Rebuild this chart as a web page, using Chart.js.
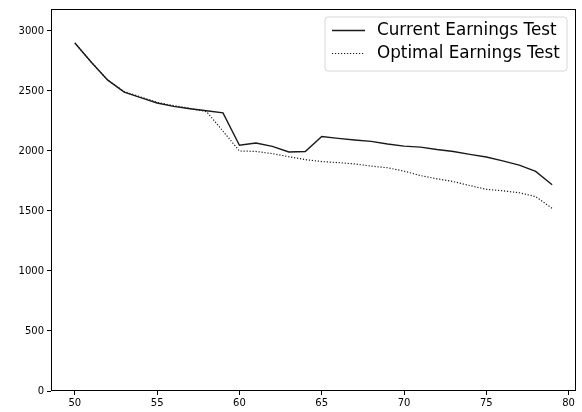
<!DOCTYPE html>
<html>
<head>
<meta charset="utf-8">
<script src="https://cdn.jsdelivr.net/npm/chart.js@4.4.1/dist/chart.umd.min.js"></script>
<style>
  html, body { margin: 0; padding: 0; background: #fff; }
  #wrap { width: 582px; height: 412px; position: relative; }
</style>
</head>
<body>
<div id="wrap"><canvas id="c" width="582" height="412"></canvas></div>
<script>
// Claiming age and benefit values for the two earnings-test rules
const ages = [50, 51, 52, 53, 54, 55, 56, 57, 58, 59, 60, 61, 62, 63, 64,
              65, 66, 67, 68, 69, 70, 71, 72, 73, 74, 75, 76, 77, 78, 79];
const currentTest = [2900, 2740, 2590, 2490, 2445, 2400, 2372, 2352, 2335, 2318,
                     2048, 2066, 2038, 1992, 1996, 2120, 2105, 2092, 2080, 2058,
                     2040, 2032, 2012, 1996, 1972, 1950, 1918, 1882, 1830, 1718];
const optimalTest = [2900, 2740, 2590, 2495, 2450, 2405, 2378, 2355, 2328, 2165,
                     2000, 1996, 1978, 1952, 1928, 1912, 1903, 1892, 1874, 1860,
                     1832, 1795, 1768, 1745, 1712, 1680, 1668, 1652, 1620, 1522];
const seriesLabels = ['Current Earnings Test', 'Optimal Earnings Test'];
const xTickValues = [50, 55, 60, 65, 70, 75, 80];
const yTickValues = [0, 500, 1000, 1500, 2000, 2500, 3000];

const FONT = 'DejaVu Sans';

// Frame around the plot area plus an inset legend box
const framePlugin = {
  id: 'frame',
  afterDraw(chart) {
    const ctx = chart.ctx;
    const a = chart.chartArea;
    ctx.save();
    ctx.strokeStyle = '#000';
    ctx.lineWidth = 1;
    ctx.strokeRect(Math.round(a.left) + 0.5, Math.round(a.top) + 0.5,
                   Math.round(a.right - a.left) - 1, Math.round(a.bottom - a.top) - 1);

    // legend
    const bx = 325, by = 17, bw = 242, bh = 54, r = 3;
    ctx.beginPath();
    ctx.moveTo(bx + r, by);
    ctx.lineTo(bx + bw - r, by);
    ctx.arcTo(bx + bw, by, bx + bw, by + r, r);
    ctx.lineTo(bx + bw, by + bh - r);
    ctx.arcTo(bx + bw, by + bh, bx + bw - r, by + bh, r);
    ctx.lineTo(bx + r, by + bh);
    ctx.arcTo(bx, by + bh, bx, by + bh - r, r);
    ctx.lineTo(bx, by + r);
    ctx.arcTo(bx, by, bx + r, by, r);
    ctx.closePath();
    ctx.fillStyle = 'rgba(255,255,255,0.8)';
    ctx.fill();
    ctx.strokeStyle = '#d6d6d6';
    ctx.stroke();

    chart.data.datasets.forEach((ds, i) => {
      const y = 30.5 + i * 23;
      ctx.beginPath();
      ctx.strokeStyle = '#1a1a1a';
      ctx.lineWidth = ds.borderWidth;
      ctx.setLineDash(ds.borderDash || []);
      ctx.moveTo(332, y);
      ctx.lineTo(365, y);
      ctx.stroke();
      ctx.setLineDash([]);
      ctx.fillStyle = '#000';
      ctx.font = '16.8px "' + FONT + '"';
      ctx.textBaseline = 'middle';
      ctx.textAlign = 'left';
      ctx.fillText(ds.label, 377, y);
    });
    ctx.restore();
  }
};

const toPoints = vals => ages.map((a, i) => ({ x: a, y: vals[i] }));

new Chart(document.getElementById('c'), {
  type: 'line',
  data: {
    datasets: [
      {
        label: seriesLabels[0],
        data: toPoints(currentTest),
        borderColor: '#1a1a1a',
        borderWidth: 1.4,
        pointRadius: 0,
        tension: 0,
        fill: false
      },
      {
        label: seriesLabels[1],
        data: toPoints(optimalTest),
        borderColor: '#1a1a1a',
        borderWidth: 1.2,
        borderDash: [1.2, 1.8],
        pointRadius: 0,
        tension: 0,
        fill: false
      }
    ]
  },
  options: {
    responsive: false,
    animation: false,
    events: [],
    layout: { padding: { top: 9, right: 6, left: 0, bottom: 0 } },
    plugins: { legend: { display: false }, tooltip: { enabled: false } },
    scales: {
      x: {
        type: 'linear',
        min: 48.55,
        max: 80.45,
        afterBuildTicks: s => { s.ticks = xTickValues.map(v => ({ value: v })); },
        afterFit: s => { s.height = 21; },
        border: { display: false },
        grid: { drawOnChartArea: false, drawTicks: true, tickLength: 4, color: '#000', tickColor: '#000' },
        ticks: { color: '#000', font: { family: FONT, size: 10 }, padding: 2, maxRotation: 0,
                 callback: v => String(v) }
      },
      y: {
        type: 'linear',
        min: 0,
        max: 3183,
        afterBuildTicks: s => { s.ticks = yTickValues.map(v => ({ value: v })); },
        afterFit: s => { s.width = 51; },
        border: { display: false },
        grid: { drawOnChartArea: false, drawTicks: true, tickLength: 4, color: '#000', tickColor: '#000' },
        ticks: { color: '#000', font: { family: FONT, size: 10 }, padding: 3,
                 callback: v => String(v) }
      }
    }
  },
  plugins: [framePlugin]
});
</script>
</body>
</html>
